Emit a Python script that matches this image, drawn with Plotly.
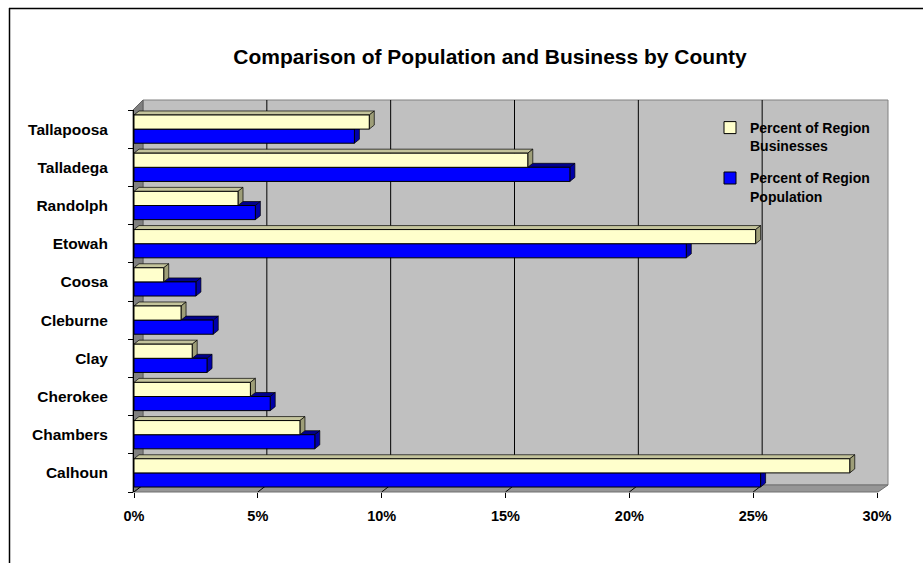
import plotly.graph_objects as go

# ---------------- data ----------------
COUNTIES = ["Calhoun", "Chambers", "Cherokee", "Clay", "Cleburne",
            "Coosa", "Etowah", "Randolph", "Talladega", "Tallapoosa"]
BUSINESS = [28.9, 6.7, 4.7, 2.35, 1.9, 1.2, 25.1, 4.2, 15.9, 9.5]
POPULATION = [25.3, 7.3, 5.5, 2.95, 3.2, 2.5, 22.3, 4.9, 17.6, 8.9]
X_TICKS = [0, 5, 10, 15, 20, 25, 30]
X_TICK_LABELS = ["0%", "5%", "10%", "15%", "20%", "25%", "30%"]
SERIES_NAMES = ["Percent of Region<br>Businesses", "Percent of Region<br>Population"]
TITLE = "Comparison of Population and Business by County"

# ---------------- layout constants ----------------
W, H = 923, 563
L, R_PX, T, B_PX = 134, 877, 110, 492
PW, PH = R_PX - L, B_PX - T
XMAX = X_TICKS[-1]
N = len(COUNTIES)
BARGAP = 0.26
HALF = (1 - BARGAP) / 2
DX = 5 * XMAX / PW          # 3D depth in data units (x)
DY = 4 * N / PH             # 3D depth in data units (y)
FONT = "Liberation Sans"


def px_x(px):
    return (px - L) / PW


def px_y(py):
    return (B_PX - py) / PH


def ppath(points):
    return "M " + " L ".join(f"{x:.5f},{y:.5f}" for x, y in points) + " Z"


shapes = []
# back wall
shapes.append(dict(type="rect", xref="paper", yref="paper", layer="below",
                   x0=px_x(143), x1=px_x(888), y0=px_y(485), y1=px_y(100),
                   fillcolor="#C0C0C0", line=dict(color="#808080", width=1)))
# left wall
shapes.append(dict(type="path", xref="paper", yref="paper", layer="below",
                   path=ppath([(px_x(133), px_y(110)), (px_x(143), px_y(100)),
                               (px_x(143), px_y(485)), (px_x(133), px_y(492))]),
                   fillcolor="#808080", line=dict(color="#606060", width=1)))
# floor
shapes.append(dict(type="path", xref="paper", yref="paper", layer="below",
                   path=ppath([(px_x(133), px_y(492)), (px_x(143), px_y(485)),
                               (px_x(888), px_y(485)), (px_x(878), px_y(492))]),
                   fillcolor="#969696", line=dict(color="#707070", width=1)))
# back-wall gridlines and floor tick marks
for t in X_TICKS:
    if 0 < t < XMAX:
        shapes.append(dict(type="line", xref="x", xsizemode="pixel", xanchor=t,
                           x0=9, x1=9, yref="paper", y0=px_y(485), y1=px_y(100),
                           layer="below", line=dict(color="#000000", width=1)))
    shapes.append(dict(type="line", xref="x", xsizemode="pixel", xanchor=t,
                       x0=0, x1=9, yref="paper", y0=px_y(492), y1=px_y(485),
                       layer="below", line=dict(color="#000000", width=1)))

# 3D faces of the bars
for i, (b, p) in enumerate(zip(BUSINESS, POPULATION)):
    # population: top face and end face
    shapes.append(dict(type="path", xref="x", yref="y", layer="between",
                       path=ppath([(0, i), (p, i), (p + DX, i + DY), (DX, i + DY)]),
                       fillcolor="#00008C", line=dict(color="#000000", width=0.7)))
    shapes.append(dict(type="path", xref="x", yref="y", layer="between",
                       path=ppath([(p, i - HALF), (p + DX, i - HALF + DY),
                                   (p + DX, i + DY), (p, i)]),
                       fillcolor="#0000A8", line=dict(color="#000000", width=0.7)))
    # business: top face and end face
    shapes.append(dict(type="path", xref="x", yref="y", layer="between",
                       path=ppath([(0, i + HALF), (b, i + HALF),
                                   (b + DX, i + HALF + DY), (DX, i + HALF + DY)]),
                       fillcolor="#C4C49C", line=dict(color="#000000", width=0.7)))
    shapes.append(dict(type="path", xref="x", yref="y", layer="between",
                       path=ppath([(b, i), (b + DX, i + DY),
                                   (b + DX, i + HALF + DY), (b, i + HALF)]),
                       fillcolor="#9E9E78", line=dict(color="#000000", width=0.7)))

# outer border (top and left)
shapes.append(dict(type="line", xref="paper", yref="paper",
                   x0=px_x(9), x1=px_x(930), y0=px_y(8.5), y1=px_y(8.5),
                   line=dict(color="#000000", width=1.5)))
shapes.append(dict(type="line", xref="paper", yref="paper",
                   x0=px_x(9.5), x1=px_x(9.5), y0=px_y(8), y1=px_y(570),
                   line=dict(color="#000000", width=1.5)))

ypos = list(range(N))

fig = go.Figure()
fig.add_trace(go.Bar(
    y=ypos, x=POPULATION, orientation="h", name=SERIES_NAMES[1],
    marker=dict(color="#0000FF", line=dict(color="#000000", width=1)),
    legendrank=2, legendgroup="pop"))
fig.add_trace(go.Bar(
    y=ypos, x=BUSINESS, orientation="h", name=SERIES_NAMES[0],
    marker=dict(color="#FFFFCC", line=dict(color="#000000", width=1)),
    legendrank=1, legendgroup="bus"))

fig.update_layout(
    width=W, height=H,
    margin=dict(l=L, r=W - R_PX, t=T, b=H - B_PX, pad=0),
    paper_bgcolor="#FFFFFF", plot_bgcolor="rgba(0,0,0,0)",
    barmode="group", bargap=BARGAP, bargroupgap=0,
    font=dict(family=FONT, color="#000000"),
    title=dict(text=TITLE, xref="container", yref="container",
               x=490 / W, y=1 - 57 / H, xanchor="center", yanchor="middle",
               font=dict(family=FONT, size=21, weight="bold", color="#000000")),
    showlegend=True,
    legend=dict(x=px_x(710), y=px_y(112), xanchor="left", yanchor="top",
                bgcolor="rgba(0,0,0,0)", borderwidth=0, valign="top",
                tracegroupgap=11, itemwidth=30,
                font=dict(family=FONT, size=14, weight="bold", color="#000000")),
    xaxis=dict(range=[0, XMAX], tickvals=X_TICKS, ticktext=X_TICK_LABELS,
               showgrid=False, zeroline=False, showline=False,
               ticks="outside", ticklen=5, tickcolor="#000000",
               ticklabelstandoff=6,
               tickfont=dict(family=FONT, size=14.5, weight="bold", color="#000000")),
    yaxis=dict(range=[-0.5, N - 0.5], tickvals=ypos, ticktext=COUNTIES,
               showgrid=False, zeroline=False, showline=True,
               linecolor="#000000", linewidth=1, ticks="",
               minor=dict(tickvals=[k - 0.5 for k in range(N + 1)],
                          ticks="outside", ticklen=5, tickcolor="#000000",
                          showgrid=False),
               ticklabelstandoff=22,
               tickfont=dict(family=FONT, size=15.5, weight="bold", color="#000000")),
    hovermode=False,
    shapes=shapes,
)

fig.write_html("out.html")
